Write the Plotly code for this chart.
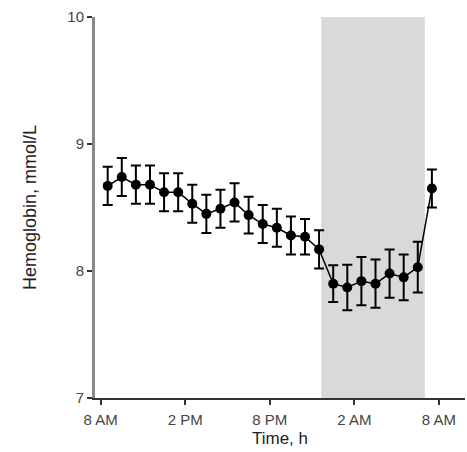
import plotly.graph_objects as go

hours = [0.5 + k for k in range(24)]
hemoglobin = [8.67, 8.74, 8.68, 8.68, 8.62, 8.62, 8.53, 8.45, 8.49, 8.54, 8.44, 8.37,
              8.34, 8.28, 8.27, 8.17, 7.90, 7.87, 7.92, 7.90, 7.98, 7.95, 8.03, 8.65]
sem = [0.15, 0.15, 0.15, 0.15, 0.15, 0.15, 0.15, 0.15, 0.15, 0.15, 0.145, 0.15,
       0.15, 0.15, 0.14, 0.15, 0.145, 0.18, 0.19, 0.19, 0.19, 0.18, 0.2, 0.15]
tick_vals = [0, 6, 12, 18, 24]
tick_text = ["8 AM", "2 PM", "8 PM", "2 AM", "8 AM"]
night = [15.65, 23.0]

fig = go.Figure()
fig.add_shape(type="rect", xref="x", yref="y", x0=night[0], x1=night[1], y0=7, y1=10,
              fillcolor="#d9d9d9", line_width=0, layer="below")
fig.add_trace(go.Scatter(
    x=hours, y=hemoglobin, mode="lines+markers",
    line=dict(color="black", width=1.5),
    marker=dict(color="black", size=10),
    error_y=dict(type="data", array=sem, color="black", thickness=2, width=5),
    showlegend=False))

font = dict(family="Liberation Sans, Arial, sans-serif", color="#222")
fig.update_layout(
    width=467, height=452,
    margin=dict(l=95, r=2, t=17, b=54),
    paper_bgcolor="white", plot_bgcolor="white",
    font=font,
    xaxis=dict(range=[-0.4, 25.85], tickvals=tick_vals, ticktext=tick_text,
               showgrid=False, zeroline=False, showline=True, linecolor="#333", linewidth=2,
               ticks="outside", ticklen=5, tickwidth=2, tickcolor="#333",
               tickfont=dict(size=15, color="#444"), ticklabelstandoff=2,
               title=dict(text="Time, h", font=dict(size=17, color="#222"), standoff=5)),
    yaxis=dict(range=[7, 10], tickvals=[7, 8, 9, 10],
               showgrid=False, zeroline=False, showline=True, linecolor="#888", linewidth=3,
               ticks="outside", ticklen=5, tickwidth=2, tickcolor="#333",
               tickfont=dict(size=15, color="#444"),
               title=dict(text="Hemoglobin, mmol/L", font=dict(size=18, color="#222"), standoff=27)),
)
fig.write_html("out.html")
